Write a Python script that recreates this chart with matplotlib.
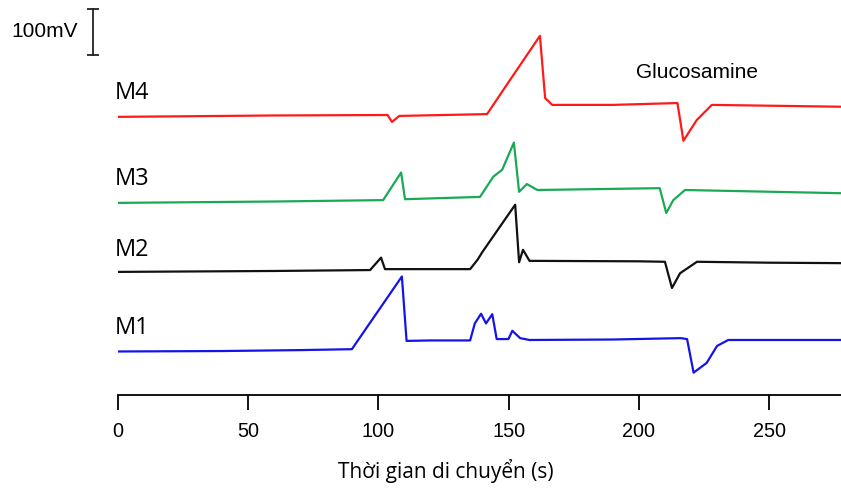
import numpy as np
import matplotlib
matplotlib.use("Agg")
import matplotlib.pyplot as plt

# migration time (s) and signal (mV, relative to each trace's own baseline)
t_m1 = [0, 40, 70, 89.8, 109, 110.8, 120, 135.2, 137, 139.4, 141.3, 143.7, 145.4,
        149.9, 151.4, 154.4, 158, 190, 216, 218.5, 221, 226, 230, 234.3, 250, 278]
v_m1 = [0, 1, 3, 5, 163, 23, 24, 24, 61, 82, 61, 81, 27,
        27, 45, 29, 25, 26, 29, 27, -46, -25, 12, 25, 25, 25]

t_m2 = [0, 60, 96.8, 101, 102.5, 135.2, 138, 140, 152.5, 154, 155.5, 158,
        200, 210, 212.7, 215.8, 222.3, 250, 278]
v_m2 = [-1, 1, 3, 30, 5, 5, 25, 43, 145, 20, 47, 23,
        22, 21, -36, -4, 21, 19, 18]

t_m3 = [0, 60, 101.8, 108.7, 110.2, 139, 144.1, 147.5, 152, 154, 157, 161,
        208, 210.5, 213.2, 217.7, 278]
v_m3 = [-3, 0, 3, 63, 5, 10, 54, 69, 128, 21, 38, 25,
        29, -25, 3, 25, 18]

t_m4 = [0, 60, 103.5, 105.2, 108, 141.7, 150.5, 162, 164, 166.7, 190,
        214.8, 217.1, 222.2, 228, 278]
v_m4 = [0, 3, 4, -11, 2, 6, 80, 176, 41, 26, 26,
        30, -52, -7, 26, 22]

labels = ["M1", "M2", "M3", "M4"]
offsets = [0, 174, 326, 510]   # vertical stacking of the traces, mV
colors = ["#1414e6", "#111111", "#1aaa55", "#ff1a1a"]
xticks = [0, 50, 100, 150, 200, 250]

fig = plt.figure(figsize=(8.41, 4.93), dpi=100)
ax = fig.add_axes([118 / 841, 98.5 / 493, 1 - 118 / 841, 394.5 / 493])

traces = [(t_m1, v_m1), (t_m2, v_m2), (t_m3, v_m3), (t_m4, v_m4)]
for (t, v), off, c in zip(traces, offsets, colors):
    ax.plot(t, np.array(v) + off, color=c, lw=1.6, solid_joinstyle="round")

ax.set_xlim(0, 277.6)
ax.set_ylim(-93.5, 764)

# trace names
label_y = [51, 221, 376, 561]
for name, y in zip(labels, label_y):
    ax.text(-1.2, y, name, fontsize=17, family="Open Sans", va="center",
            ha="left", clip_on=False)

ax.text(199, 606, "Glucosamine", fontsize=15, family="Liberation Sans",
        va="center", ha="left")

# 100 mV scale bar
ax.plot([-9.6, -9.6], [644.6, 744.6], color="#222222", lw=1.3, clip_on=False)
ax.plot([-9.6, -9.6], [644.6, 744.6], ls="none", marker="_", ms=8, mew=1.3,
        color="#222222", clip_on=False)
ax.text(-15.4, 694.6, "100mV", fontsize=15, family="Liberation Sans",
        ha="right", va="center")

for s in ["left", "right", "top"]:
    ax.spines[s].set_visible(False)
ax.spines["bottom"].set_linewidth(1.3)
ax.set_yticks([])
ax.set_xticks(xticks)
ax.tick_params(axis="x", direction="out", length=11, width=1.3, pad=9,
               labelsize=14.3)
for lab in ax.get_xticklabels():
    lab.set_family("Liberation Sans")

ax.set_xlabel("Thời gian di chuyển (s)", fontsize=15, family="Open Sans")
ax.xaxis.set_label_coords(0.453, -0.163)

fig.savefig("out.png", dpi=100)
